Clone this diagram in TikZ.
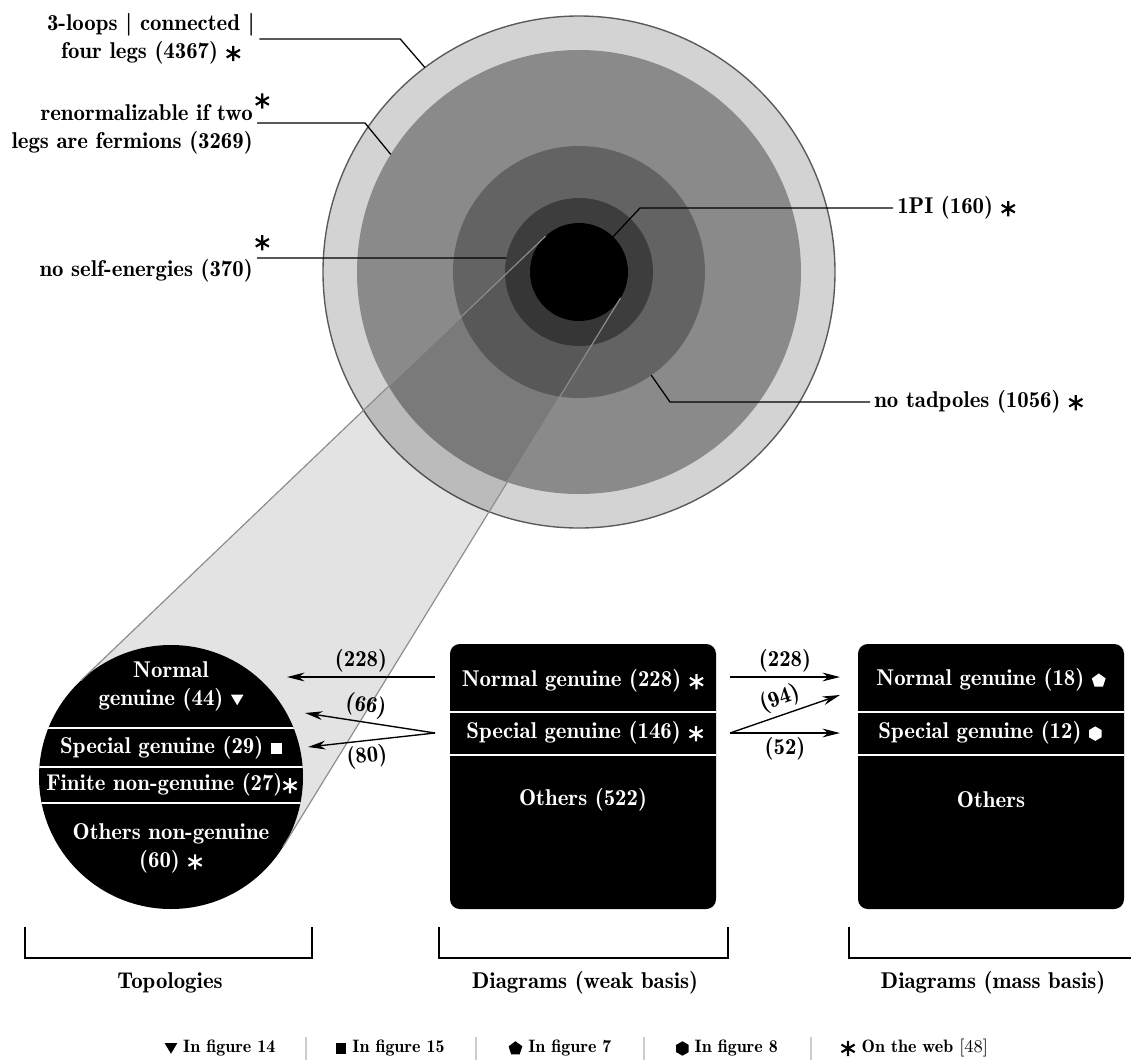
\documentclass[tikz,border=0pt]{standalone}
\usepackage{tikz}
\usetikzlibrary{calc,arrows.meta,positioning}
\newcommand{\px}{0.018cm}
\newcommand{\demi}{\fontsize{11.7}{14.3}\fontseries{b}\selectfont}
\newcommand{\keyfont}{\fontsize{9.2}{11}\fontseries{b}\selectfont}
\definecolor{ringA}{HTML}{D3D3D3}
\definecolor{ringB}{HTML}{8A8A8A}
\definecolor{ringC}{HTML}{636363}
\definecolor{ringD}{HTML}{3D3D3D}
\definecolor{coneGray}{HTML}{8C8C8C}
% little marks used in the texts and in the key
\newcommand{\webstar}[1][black]{\tikz[baseline=-0.5ex]{\draw[#1, line width=1.1pt] (90:3.9pt) -- (270:3.9pt) (30:3.9pt) -- (210:3.9pt) (150:3.9pt) -- (330:3.9pt);}}
\newcommand{\downmark}[1][black]{\tikz[baseline=-0.5ex]{\fill[#1] (-3.2pt,2.7pt) -- (3.2pt,2.7pt) -- (0,-2.7pt) -- cycle;}}
\newcommand{\squaremark}[1][black]{\tikz[baseline=-0.5ex]{\fill[#1] (-2.8pt,-2.8pt) rectangle (2.8pt,2.8pt);}}
\newcommand{\pentamark}[1][black]{\tikz[baseline=-0.5ex]{\fill[#1] (90:3.7pt) -- (162:3.7pt) -- (234:3.7pt) -- (306:3.7pt) -- (18:3.7pt) -- cycle;}}
\newcommand{\hexamark}[1][black]{\tikz[baseline=-0.5ex]{\fill[#1] (90:3.7pt) -- (150:3.7pt) -- (210:3.7pt) -- (270:3.7pt) -- (330:3.7pt) -- (30:3.7pt) -- cycle;}}
\tikzset{
    ring/.style={circle, inner sep=0pt, outer sep=0pt, minimum size=#1*\px},
    panel/.style={rectangle, rounded corners=5pt, fill=black, inner sep=0pt, outer sep=0pt, minimum width=266*\px, minimum height=265*\px},
    rowtext/.style={text=white, font=\demi, align=center, inner sep=1pt},
    tag/.style={font=\demi, align=right, inner sep=2pt},
    divider/.style={white, line width=0.8pt},
    leader/.style={line width=0.65pt},
    cone/.style={fill=black, fill opacity=0.11},
    coneedge/.style={draw=coneGray, line width=0.6pt},
    flow/.style={-{Stealth[length=9pt, width=4.5pt]}, line width=0.7pt},
    flowback/.style={{Stealth[length=9pt, width=4.5pt]}-, line width=0.7pt},
    num/.style={font=\demi, inner sep=2pt},
    bracket/.style={line width=0.6pt},
    caption/.style={font=\demi},
    keyitem/.style={font=\keyfont, inner sep=0pt},
    keysep/.style={draw=black!20, line width=0.6pt}
}

\begin{document}
\begin{tikzpicture}[x=\px, y=-\px]
    \useasboundingbox (0,0) rectangle (1131,1060);

    % Nested sets
    \node[ring=512, fill=ringA, draw=black!65, line width=0.7pt] (c4367) at (579,272) {};
    \node[ring=444, fill=ringB] (c3269) at (579,272) {};
    \node[ring=252, fill=ringC] (c1056) at (579,272) {};
    \node[ring=148, fill=ringD] (c370) at (579,272) {};
    \node[ring=98, fill=black] (c160) at (579,272) {};

    % Topologies disc and the zoom cone
    \node[ring=264, fill=black] (topo) at (171,777) {};
    \fill[cone] (c160.133.7) -- (topo.133.7) -- (topo.328.4) -- (c160.328.4) -- cycle;
    \draw[coneedge] (c160.133.7) -- (topo.133.7);
    \draw[coneedge] (c160.328.4) -- (topo.328.4);

    % Labels of the sets
    \node[tag, align=center] (t4367) at (151,39) {3-loops | connected |\\ four legs (4367) \webstar};
    \node[tag, anchor=east] (t3269) at (257,123) {renormalizable if two\rlap{\hspace{1pt}\raisebox{1.4ex}{\webstar}}\\ legs are fermions (3269)};
    \node[tag, anchor=east] (t370) at (257,258) {no self-energies (370)\rlap{\hspace{1pt}\raisebox{2.8ex}{\webstar}}};
    \node[tag, anchor=west] (t160) at (893,208) {1PI (160) \webstar};
    \node[tag, anchor=west] (t1056) at (870,402) {no tadpoles (1056) \webstar};

    \draw[leader] (t4367.east) -- ++(141,0) -- (c4367.127);
    \draw[leader] (t3269.east) -- ++(108,0) -- (c3269.148);
    \draw[leader] (t370.east) -- (c370.169.3);
    \draw[leader] (t160.west) -- ++(-253,0) -- (c160.46);
    \draw[leader] (t1056.west) -- ++(-200,0) -- (c1056.305);

    % Topologies
    \begin{scope}
        \clip (topo.center) circle [radius=132*\px];
        \draw[divider] (20,728) -- (320,728);
        \draw[divider] (20,767) -- (320,767);
        \draw[divider] (20,803) -- (320,803);
    \end{scope}
    \node[rowtext] (topoN) at (171,686) {Normal\\ genuine (44) \downmark[white]};
    \node[rowtext] (topoS) at (171,748) {Special genuine (29) \squaremark[white]};
    \node[rowtext] (topoF) at (172,785) {Finite non-genuine (27)\webstar[white]};
    \node[rowtext] (topoO) at (171,848) {Others non-genuine\\ (60) \webstar[white]};

    % Diagrams, weak basis
    \node[panel] (weak) at (583,776.5) {};
    \draw[divider] (450,712) -- (716,712);
    \draw[divider] (450,755) -- (716,755);
    \node[rowtext] (weakN) at (583,681) {Normal genuine (228) \webstar[white]};
    \node[rowtext] (weakS) at (585,733) {Special genuine (146) \webstar[white]};
    \node[rowtext] (weakO) at (583,800) {Others (522)};

    % Diagrams, mass basis
    \node[panel] (mass) at (991,776.5) {};
    \draw[divider] (858,712) -- (1124,712);
    \draw[divider] (858,755) -- (1124,755);
    \node[rowtext] (massN) at (991,680) {Normal genuine (18) \pentamark[white]};
    \node[rowtext] (massS) at (990,733) {Special genuine (12) \hexamark[white]};
    \node[rowtext] (massO) at (991,800) {Others};

    % arrow ends
    \coordinate (wNin) at (435,677);
    \coordinate (wSin) at (435,733);
    \coordinate (tN) at (287,677);
    \coordinate (tN2) at (305,713);
    \coordinate (tS) at (308,747);
    \coordinate (wNout) at (730,677);
    \coordinate (wSout) at (730,733);
    \coordinate (mN) at (840,677);
    \coordinate (mN2) at (840,695);
    \coordinate (mS) at (840,733);

    % counts
    \draw[flowback] (tN) -- node[num, above] {(228)} (wNin);
    \draw[flowback] (tN2) -- node[num, above, sloped, pos=0.45] {(66)} (wSin);
    \draw[flowback] (tS) -- node[num, below, sloped, pos=0.45] {(80)} (wSin);
    \draw[flow] (wNout) -- node[num, above] {(228)} (mN);
    \draw[flow] (wSout) -- node[num, above, sloped] {(94)} (mN2);
    \draw[flow] (wSout) -- node[num, below] {(52)} (mS);

    % brackets
    \draw[bracket] (25,927) |- (312,958) -- (312,927);
    \draw[bracket] (439,927) |- (728,958) -- (728,927);
    \draw[bracket] (849,927) |- (1133,958) -- (1133,927);
    \node[caption] (capT) at (170,983) {Topologies};
    \node[caption] (capW) at (585,983) {Diagrams (weak basis)};
    \node[caption] (capM) at (993,983) {Diagrams (mass basis)};

    % key
    \node[keyitem] (key14) at (220,1048) {\downmark\ In figure 14};
    \node[keyitem] (key15) at (390,1048) {\squaremark\ In figure 15};
    \node[keyitem] (key7) at (560,1048) {\pentamark\ In figure 7};
    \node[keyitem] (key8) at (727,1048) {\hexamark\ In figure 8};
    \node[keyitem, anchor=west] (keyweb) at (840,1048) {\webstar\ On the web \textmd{[48]}};
    \draw[keysep] (306,1037) -- (306,1060);
    \draw[keysep] (476,1037) -- (476,1060);
    \draw[keysep] (644,1037) -- (644,1060);
    \draw[keysep] (811,1037) -- (811,1060);
\end{tikzpicture}
\end{document}
